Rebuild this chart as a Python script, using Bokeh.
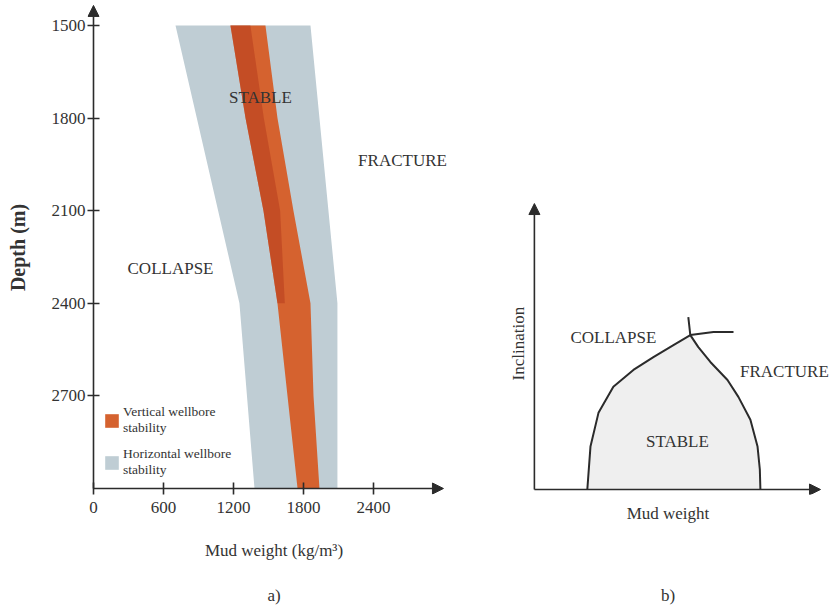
import math
from bokeh.plotting import figure
from bokeh.models import (Range1d, Label, Arrow, NormalHead, Legend, LegendItem,
                          Title, FixedTicker, LinearAxis)
from bokeh.layouts import row
from bokeh.embed import file_html
from bokeh.resources import INLINE

FONT = "Liberation Serif"
INK = "#2b2b2b"
TXT = "#333333"

# ---------------- panel a) data ----------------
depth_h = [1500, 2400, 3000]
horiz_low = [703, 1251, 1380]
horiz_high = [1860, 2091, 2091]

depth_v = [1500, 1800, 2100, 2400, 2700, 3000]
vert_low = [1174, 1303, 1457, 1577, 1663, 1749]
vert_high = [1474, 1577, 1714, 1860, 1886, 1937]

depth_core = [1500, 1800, 2100, 2400]
core_low = [1174, 1303, 1457, 1577]
core_high = [1345, 1460, 1600, 1640]

x_ticks_a = [0, 600, 1200, 1800, 2400]
y_ticks_a = [1500, 1800, 2100, 2400, 2700]

# ---------------- panel b) data (schematic units) ----------------
collapse_x = [18.5, 19.6, 22.4, 27.6, 34.6, 41.6, 48.6, 54.5, 62.6, 69.6]
collapse_y = [0.0, 15.0, 26.8, 35.9, 41.8, 46.3, 50.5, 54.0, 55.1, 55.1]
fracture_x = [53.8, 54.5, 57.3, 61.5, 67.5, 71.3, 75.5, 78.0, 78.8, 79.0]
fracture_y = [60.3, 54.0, 49.8, 44.6, 38.3, 32.4, 24.4, 15.0, 7.0, 0.0]


def head():
    return NormalHead(size=11, fill_color=INK, line_color=INK, line_width=1)


def spacer(size_px):
    return LinearAxis(ticker=FixedTicker(ticks=[]), axis_line_color=None,
                      major_tick_line_color=None, minor_tick_line_color=None,
                      major_label_text_font_size="0px", major_label_standoff=0,
                      major_tick_out=0, major_tick_in=0,
                      axis_label=" ", axis_label_text_font_size="1px",
                      axis_label_standoff=size_px)


H = 610

# ================= panel a =================
p1 = figure(width=474, height=H, title=None,
            x_range=Range1d(-51.4, 3146), y_range=Range1d(3019.4, 1419),
            output_backend="svg", toolbar_location=None,
            min_border_left=87, min_border_right=14,
            min_border_top=0, min_border_bottom=116)
p1.outline_line_color = None
p1.grid.visible = False
p1.background_fill_color = "white"

hx = horiz_low + horiz_high[::-1]
hy = depth_h + depth_h[::-1]
r_h = p1.patch(hx, hy, fill_color="#bfcdd4", line_color=None)

vx = vert_low + vert_high[::-1]
vy = depth_v + depth_v[::-1]
r_v = p1.patch(vx, vy, fill_color="#d5622f", line_color=None)

cx = core_low + core_high[::-1]
cy = depth_core + depth_core[::-1]
p1.patch(cx, cy, fill_color="#b9401f", line_color=None, fill_alpha=0.6)

for ax in (p1.xaxis[0], p1.yaxis[0]):
    ax.axis_line_color = None
    ax.major_tick_line_color = INK
    ax.major_tick_line_width = 1.6
    ax.major_tick_in = 12
    ax.major_tick_out = 0
    ax.minor_tick_line_color = None
    ax.major_label_text_font = FONT
    ax.major_label_text_font_size = "17px"
    ax.major_label_text_color = TXT
    ax.axis_label_text_font = FONT
    ax.axis_label_text_font_size = "17px"
    ax.axis_label_text_color = TXT

p1.xaxis.ticker = FixedTicker(ticks=x_ticks_a)
p1.yaxis.ticker = FixedTicker(ticks=y_ticks_a)
p1.xaxis.axis_label = "Mud weight (kg/m³)"
p1.yaxis.axis_label = "Depth (m)"
p1.yaxis.axis_label_text_font_style = "bold"
p1.yaxis.axis_label_text_font_size = "20px"
p1.xaxis.axis_label_text_font_style = "normal"
p1.xaxis.axis_label_standoff = 25
p1.yaxis.axis_label_standoff = 20
p1.yaxis.major_label_standoff = 2
p1.xaxis.major_label_standoff = 7

p1.add_layout(Arrow(end=head(), x_start=0, y_start=3000, x_end=0, y_end=1435,
                    line_color=INK, line_width=1.6))
p1.add_layout(Arrow(end=head(), x_start=0, y_start=3000, x_end=3000, y_end=3000,
                    line_color=INK, line_width=1.6))

for txt, x, y in [("STABLE", 1431, 1733), ("FRACTURE", 2649, 1937),
                  ("COLLAPSE", 660, 2287)]:
    p1.add_layout(Label(x=x, y=y, text=txt, text_font=FONT, text_font_size="17px",
                        text_color=TXT, text_align="center",
                        text_baseline="middle"))

legend = Legend(items=[LegendItem(label="Vertical wellbore\nstability", renderers=[r_v]),
                       LegendItem(label="Horizontal wellbore\nstability", renderers=[r_h])],
                location=(16, 16), label_text_font=FONT, label_text_font_size="13.5px",
                label_text_color=TXT, glyph_width=17, glyph_height=17,
                background_fill_alpha=0, border_line_color=None, padding=0,
                margin=0, spacing=10, label_standoff=3)
p1.add_layout(legend, "center")

p1.add_layout(spacer(12), "below")
p1.add_layout(Title(text="a)", align="center", text_font=FONT, text_font_size="17px",
                    text_font_style="normal", text_color=TXT, offset=-16), "below")

# ================= panel b =================
p2 = figure(width=356, height=H, title=None,
            x_range=Range1d(-10.1, 103.5), y_range=Range1d(-1.75, 171.0),
            output_backend="svg", toolbar_location=None,
            min_border_left=31, min_border_right=0,
            min_border_top=0, min_border_bottom=116)
p2.outline_line_color = None
p2.grid.visible = False

stable_x = collapse_x[:8] + fracture_x[1:]
stable_y = collapse_y[:8] + fracture_y[1:]
p2.patch(stable_x, stable_y, fill_color="#efefef", line_color=None)
p2.line(collapse_x, collapse_y, line_color=INK, line_width=2)
p2.line(fracture_x, fracture_y, line_color=INK, line_width=2)

p2.yaxis.visible = False
xa = p2.xaxis[0]
xa.ticker = FixedTicker(ticks=[])
xa.axis_line_color = None
xa.major_tick_line_color = None
xa.minor_tick_line_color = None
xa.major_tick_out = 0
xa.major_tick_in = 0
xa.major_label_standoff = 0
xa.major_label_text_font_size = "0px"
xa.axis_label = "Mud weight"
xa.axis_label_text_font = FONT
xa.axis_label_text_font_size = "17px"
xa.axis_label_text_font_style = "normal"
xa.axis_label_text_color = TXT
xa.axis_label_standoff = 9

p2.add_layout(Arrow(end=head(), x_start=0, y_start=0, x_end=0, y_end=100,
                    line_color=INK, line_width=1.6))
p2.add_layout(Arrow(end=head(), x_start=0, y_start=0, x_end=100, y_end=0,
                    line_color=INK, line_width=1.6))

p2.add_layout(Label(x=-5.6, y=51.0, text="Inclination", angle=math.pi / 2,
                    text_font=FONT, text_font_size="17px", text_color=TXT,
                    text_align="center", text_baseline="middle"))

for txt, x, y in [("COLLAPSE", 27.6, 53.3), ("FRACTURE", 87.4, 41.1),
                  ("STABLE", 50.0, 16.8)]:
    p2.add_layout(Label(x=x, y=y, text=txt, text_font=FONT, text_font_size="17px",
                        text_color=TXT, text_align="center",
                        text_baseline="middle"))

p2.add_layout(spacer(49), "below")
p2.add_layout(Title(text="b)", align="center", text_font=FONT, text_font_size="17px",
                    text_font_style="normal", text_color=TXT, offset=18), "below")

layout = row(p1, p2)
open("out.html", "w").write(file_html(layout, INLINE))
